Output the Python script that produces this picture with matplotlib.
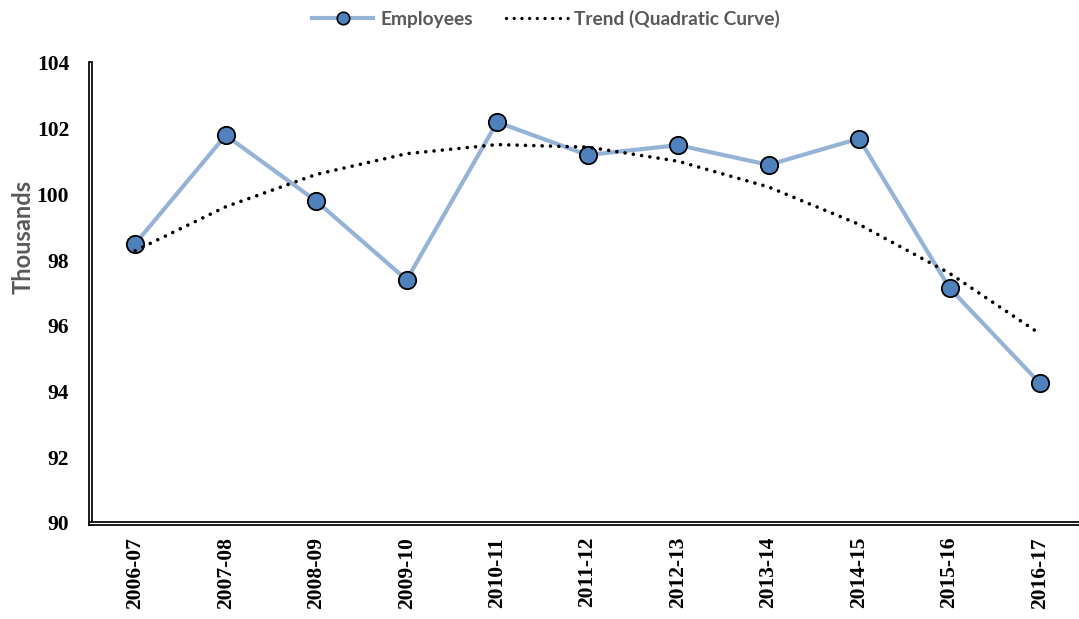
import numpy as np
import matplotlib
matplotlib.use("Agg")
import matplotlib.pyplot as plt
import matplotlib.patheffects as pe
from matplotlib.lines import Line2D

years = ["2006-07", "2007-08", "2008-09", "2009-10", "2010-11", "2011-12",
         "2012-13", "2013-14", "2014-15", "2015-16", "2016-17"]
employees = [98.5, 101.8, 99.8, 97.4, 102.2, 101.2, 101.5, 100.9, 101.7, 97.15, 94.25]
y_ticks = [90, 92, 94, 96, 98, 100, 102, 104]

x = np.arange(len(years))
coef = np.polyfit(x, employees, 2)
trend = np.polyval(coef, x)

W, H = 1079, 619
fig = plt.figure(figsize=(W / 100, H / 100), dpi=100)
left, right, top, bottom = 90, 1079, 63, 523
ax = fig.add_axes([left / W, 1 - bottom / H, (right - left) / W, (bottom - top) / H])

line_color = "#95B3D7"
marker_face = "#4F81BD"

ax.plot(x, employees, color=line_color, lw=3.0, marker="o", markersize=12.5,
        markerfacecolor=marker_face, markeredgecolor="black", markeredgewidth=1.3,
        zorder=3, solid_capstyle="round")
ax.plot(x, trend, color="black", lw=2.6, linestyle=(0, (0.01, 2.3)),
        dash_capstyle="round", zorder=4)

ax.set_xlim(-0.5, (right - 135) / 90.5)
ax.set_ylim(90, 104)
ax.set_yticks(y_ticks)
ax.set_xticks(x)
ax.set_xticklabels(years, rotation=90)
ax.tick_params(axis="both", length=0)
ax.tick_params(axis="y", pad=15)
ax.tick_params(axis="x", pad=10)
for lab in ax.get_xticklabels() + ax.get_yticklabels():
    lab.set_fontfamily("Liberation Serif")
    lab.set_fontweight("bold")
    lab.set_fontsize(15.5)

for s in ["top", "right"]:
    ax.spines[s].set_visible(False)
for s in ["left", "bottom"]:
    sp = ax.spines[s]
    sp.set_color("white")
    sp.set_linewidth(0.9)
    sp.set_path_effects([pe.Stroke(linewidth=3.4, foreground="black"), pe.Normal()])
    sp.set_zorder(5)

fig.text(23 / W, 1 - 237 / H, "Thousands", rotation=90, ha="center", va="center",
         fontfamily="Lato", fontweight="bold", fontsize=17, color="#595959")

handles = [
    Line2D([], [], color=line_color, lw=3.0, marker="o", markersize=9,
           markerfacecolor=marker_face, markeredgecolor="black", markeredgewidth=1.2),
    Line2D([], [], color="black", lw=2.4, linestyle=(0, (0.01, 2.3)),
           dash_capstyle="round"),
]
leg = fig.legend(handles, ["Employees", "Trend (Quadratic Curve)"],
                 loc="center", bbox_to_anchor=(546 / W, 1 - 19 / H), ncol=2,
                 frameon=False, handlelength=3.2, columnspacing=1.75, handletextpad=0.35,
                 prop={"family": "Lato", "weight": "bold", "size": 13.8})
for t in leg.get_texts():
    t.set_color("#595959")

fig.savefig("out.png", dpi=100)
